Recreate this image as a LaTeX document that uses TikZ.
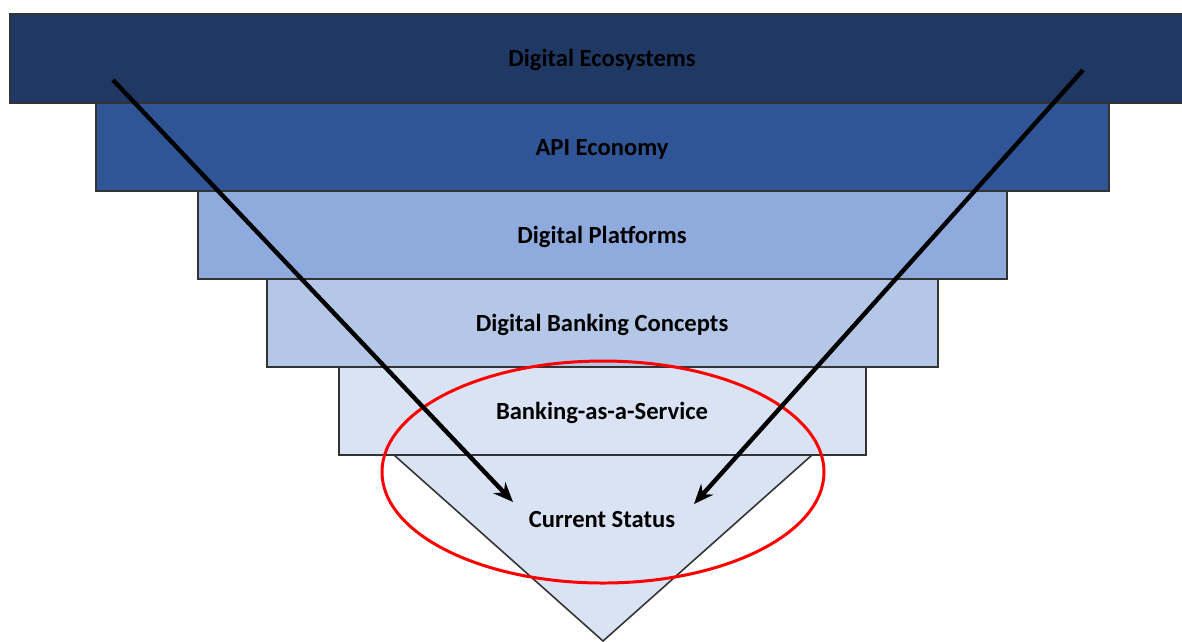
\documentclass[tikz,border=0pt]{standalone}
\usepackage{fontspec}
\setmainfont{Carlito}
\usepackage{tikz}
\usetikzlibrary{arrows.meta}
\definecolor{ecoblue}{HTML}{203864}
\definecolor{apiblue}{HTML}{2F5597}
\definecolor{platblue}{HTML}{8FAADC}
\definecolor{conblue}{HTML}{B4C7E7}
\definecolor{baasblue}{HTML}{DAE3F3}
\tikzset{
  layer/.style={draw=black!80,line width=0.45pt},
  lbl/.style={font=\fontsize{7.0}{8.5}\selectfont\bfseries,text=black},
  push/.style={line width=1.25pt,-{Stealth[length=5.6pt,width=4.6pt]}}
}

\begin{document}
\begin{tikzpicture}[x=0.01cm,y=-0.01cm]
\useasboundingbox (0,0) rectangle (1182,641);
% layers, widest at the top
\draw[layer,fill=ecoblue] (10,14) rectangle (1196,103);
\draw[layer,fill=apiblue] (96,103) rectangle (1109,191);
\draw[layer,fill=platblue] (198,191) rectangle (1007,279);
\draw[layer,fill=conblue] (267,279) rectangle (938,367);
\draw[layer,fill=baasblue] (339,367) rectangle (866,455);
% funnel tip
\draw[layer,fill=baasblue] (394,455) -- (812,455) -- (603,641) -- cycle;
% layer labels
\node[lbl] (eco) at (602,60) {Digital Ecosystems};
\node[lbl] (api) at (602,149) {API Economy};
\node[lbl] (plat) at (602,237) {Digital Platforms};
\node[lbl] (dbc) at (602,325) {Digital Banking Concepts};
\node[lbl] (baas) at (602,413) {Banking-as-a-Service};
\node[lbl] (status) at (602,519) {Current Status};
% marked region
\draw[red,line width=0.85pt] (603,472) ellipse [x radius=221,y radius=111];
% arrows into the current status
\coordinate (lstart) at (113,80);
\coordinate (lend) at (513,502);
\coordinate (rstart) at (1083,70);
\coordinate (rend) at (694,504);
\draw[push] (lstart) -- (lend);
\draw[push] (rstart) -- (rend);
\end{tikzpicture}
\end{document}
